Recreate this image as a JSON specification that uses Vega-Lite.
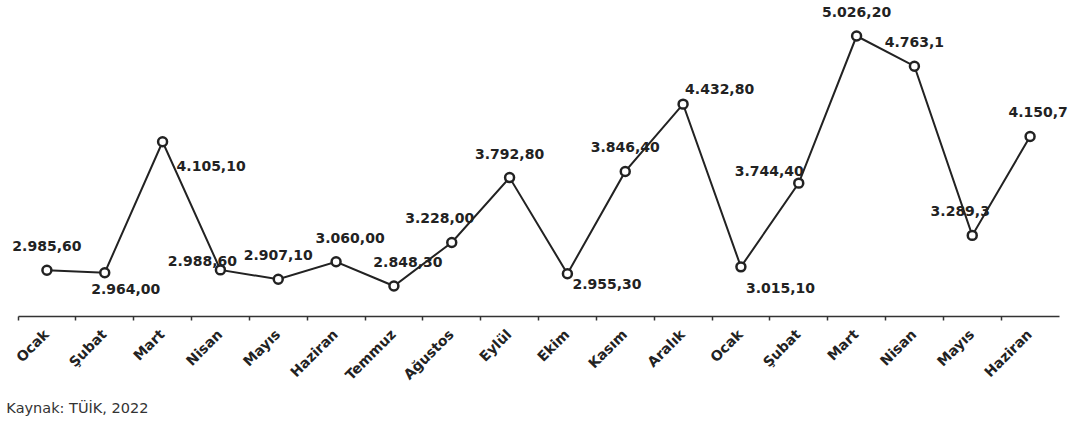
{
  "$schema": "https://vega.github.io/schema/vega-lite/v6.json",
  "autosize": "none",
  "width": 1041,
  "height": 316,
  "padding": {"left": 18, "top": 0, "right": 20, "bottom": 112},
  "background": "#ffffff",
  "title": {"text": "Kaynak: TÜİK, 2022", "orient": "bottom", "anchor": "start", "frame": "bounds", "fontSize": 14.5, "fontWeight": "normal", "font": "DejaVu Sans", "color": "#333333", "dx": -6, "offset": 19},
  "data": {"values": [
    {"i": 0, "ay": "Ocak|2021", "deger": 2985.6, "etiket": "2.985,60"},
    {"i": 1, "ay": "Şubat|2021", "deger": 2964.0, "etiket": "2.964,00"},
    {"i": 2, "ay": "Mart|2021", "deger": 4105.1, "etiket": "4.105,10"},
    {"i": 3, "ay": "Nisan|2021", "deger": 2988.6, "etiket": "2.988,60"},
    {"i": 4, "ay": "Mayıs|2021", "deger": 2907.1, "etiket": "2.907,10"},
    {"i": 5, "ay": "Haziran|2021", "deger": 3060.0, "etiket": "3.060,00"},
    {"i": 6, "ay": "Temmuz|2021", "deger": 2848.3, "etiket": "2.848,30"},
    {"i": 7, "ay": "Ağustos|2021", "deger": 3228.0, "etiket": "3.228,00"},
    {"i": 8, "ay": "Eylül|2021", "deger": 3792.8, "etiket": "3.792,80"},
    {"i": 9, "ay": "Ekim|2021", "deger": 2955.3, "etiket": "2.955,30"},
    {"i": 10, "ay": "Kasım|2021", "deger": 3846.4, "etiket": "3.846,40"},
    {"i": 11, "ay": "Aralık|2021", "deger": 4432.8, "etiket": "4.432,80"},
    {"i": 12, "ay": "Ocak|2022", "deger": 3015.1, "etiket": "3.015,10"},
    {"i": 13, "ay": "Şubat|2022", "deger": 3744.4, "etiket": "3.744,40"},
    {"i": 14, "ay": "Mart|2022", "deger": 5026.2, "etiket": "5.026,20"},
    {"i": 15, "ay": "Nisan|2022", "deger": 4763.1, "etiket": "4.763,1"},
    {"i": 16, "ay": "Mayıs|2022", "deger": 3289.3, "etiket": "3.289,3"},
    {"i": 17, "ay": "Haziran|2022", "deger": 4150.7, "etiket": "4.150,7"}
  ]},
  "encoding": {
    "x": {"field": "ay", "type": "nominal", "sort": null,
      "scale": {"type": "band", "paddingInner": 0, "paddingOuter": 0},
      "axis": {"title": null, "labelExpr": "split(datum.value, '|')[0]", "labelAngle": -45, "labelAlign": "right", "labelBaseline": "middle",
        "bandPosition": 0, "labelOffset": 0, "labelPadding": 12, "labelFont": "DejaVu Sans", "labelFontWeight": "bold", "labelFontSize": 14, "labelColor": "#222222",
        "domainColor": "#333333", "domainWidth": 1.5, "tickColor": "#333333", "tickSize": 4, "tickWidth": 1.5, "grid": false}},
    "y": {"field": "deger", "type": "quantitative", "scale": {"domain": [2587, 5340], "nice": false, "zero": false}, "axis": null}
  },
  "layer": [
    {"mark": {"type": "line", "color": "#222222", "strokeWidth": 2}},
    {"mark": {"type": "point", "shape": "circle", "filled": true, "fill": "#ffffff", "stroke": "#222222", "strokeWidth": 2.5, "size": 80, "opacity": 1}},
    {"transform": [{"filter": {"field": "i", "oneOf": [0, 4, 8, 10, 14, 15]}}],
     "mark": {"type": "text", "font": "DejaVu Sans", "fontWeight": "bold", "fontSize": 14, "color": "#222222", "align": "center", "dy": -23},
     "encoding": {"text": {"field": "etiket"}}},
    {"transform": [{"filter": {"field": "i", "oneOf": [5, 6]}}],
     "mark": {"type": "text", "font": "DejaVu Sans", "fontWeight": "bold", "fontSize": 14, "color": "#222222", "align": "center", "dx": 14, "dy": -23},
     "encoding": {"text": {"field": "etiket"}}},
    {"transform": [{"filter": {"field": "i", "oneOf": [17]}}],
     "mark": {"type": "text", "font": "DejaVu Sans", "fontWeight": "bold", "fontSize": 14, "color": "#222222", "align": "center", "dx": 8, "dy": -24},
     "encoding": {"text": {"field": "etiket"}}},
    {"transform": [{"filter": {"field": "i", "oneOf": [7, 16]}}],
     "mark": {"type": "text", "font": "DejaVu Sans", "fontWeight": "bold", "fontSize": 14, "color": "#222222", "align": "center", "dx": -12, "dy": -23},
     "encoding": {"text": {"field": "etiket"}}},
    {"transform": [{"filter": {"field": "i", "oneOf": [3]}}],
     "mark": {"type": "text", "font": "DejaVu Sans", "fontWeight": "bold", "fontSize": 14, "color": "#222222", "align": "center", "dx": -18, "dy": -8},
     "encoding": {"text": {"field": "etiket"}}},
    {"transform": [{"filter": {"field": "i", "oneOf": [1]}}],
     "mark": {"type": "text", "font": "DejaVu Sans", "fontWeight": "bold", "fontSize": 14, "color": "#222222", "align": "center", "dx": 21, "dy": 17},
     "encoding": {"text": {"field": "etiket"}}},
    {"transform": [{"filter": {"field": "i", "oneOf": [2]}}],
     "mark": {"type": "text", "font": "DejaVu Sans", "fontWeight": "bold", "fontSize": 14, "color": "#222222", "align": "left", "dx": 14, "dy": 25},
     "encoding": {"text": {"field": "etiket"}}},
    {"transform": [{"filter": {"field": "i", "oneOf": [9]}}],
     "mark": {"type": "text", "font": "DejaVu Sans", "fontWeight": "bold", "fontSize": 14, "color": "#222222", "align": "left", "dx": 5, "dy": 11},
     "encoding": {"text": {"field": "etiket"}}},
    {"transform": [{"filter": {"field": "i", "oneOf": [11]}}],
     "mark": {"type": "text", "font": "DejaVu Sans", "fontWeight": "bold", "fontSize": 14, "color": "#222222", "align": "left", "dx": 2, "dy": -14},
     "encoding": {"text": {"field": "etiket"}}},
    {"transform": [{"filter": {"field": "i", "oneOf": [12]}}],
     "mark": {"type": "text", "font": "DejaVu Sans", "fontWeight": "bold", "fontSize": 14, "color": "#222222", "align": "left", "dx": 5, "dy": 22},
     "encoding": {"text": {"field": "etiket"}}},
    {"transform": [{"filter": {"field": "i", "oneOf": [13]}}],
     "mark": {"type": "text", "font": "DejaVu Sans", "fontWeight": "bold", "fontSize": 14, "color": "#222222", "align": "right", "dx": 5, "dy": -11},
     "encoding": {"text": {"field": "etiket"}}}
  ],
  "config": {"view": {"stroke": null}}
}
